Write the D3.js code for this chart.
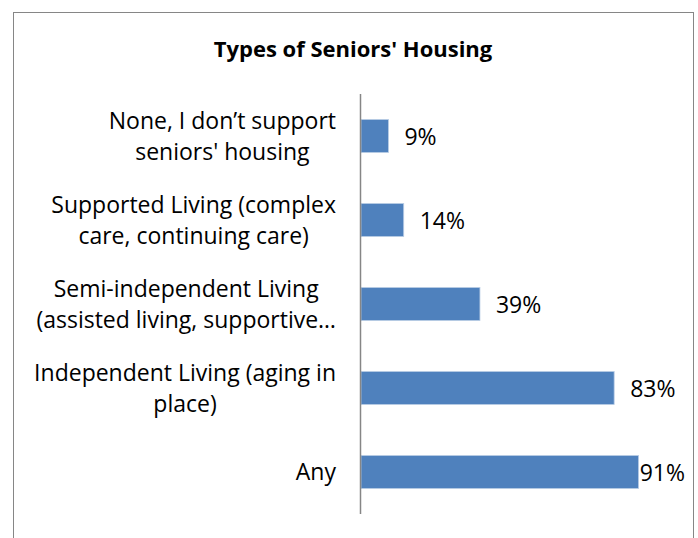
<!DOCTYPE html>
<html><head><meta charset="utf-8">
<script src="https://cdn.jsdelivr.net/npm/d3@7"></script>
<style>body{margin:0;background:#fff}svg{display:block}text{font-family:"Open Sans",Lato,sans-serif;fill:#000}</style>
</head><body><svg id="c" width="698" height="538"></svg>
<script>
const title = "Types of Seniors' Housing";
const categories = [
  ["None, I don\u2019t support", "seniors' housing"],
  ["Supported Living (complex", "care, continuing care)"],
  ["Semi-independent Living", "(assisted living, supportive\u2026"],
  ["Independent Living (aging in", "place)"],
  ["Any"]
];
const values = [9, 14, 39, 83, 91];
const valueLabels = ["9%", "14%", "39%", "83%", "91%"];

const svg = d3.select("#c");
svg.append("rect").attr("x",13.5).attr("y",12.5).attr("width",680).attr("height",560)
  .attr("fill","#fff").attr("stroke","#868686").attr("stroke-width",1);

svg.append("text").attr("x",353).attr("y",57).attr("text-anchor","middle")
  .attr("font-weight","bold").attr("font-size",22).text(title);

const idx = d3.range(values.length);
const y = d3.scaleBand().domain(idx).range([94,514]).paddingInner(0.607).paddingOuter(0.3035);
const x = d3.scaleLinear().domain([0,100]).range([361,666]);

svg.selectAll("rect.bar").data(idx).join("rect").attr("class","bar")
  .attr("x",x(0)).attr("y",i=>y(i)).attr("width",i=>x(values[i])-x(0)).attr("height",y.bandwidth())
  .attr("fill","#4F81BD").attr("stroke","#B9CDE5").attr("stroke-width",0.8);

svg.append("line").attr("x1",360.5).attr("x2",360.5).attr("y1",94).attr("y2",514)
  .attr("stroke","#868686").attr("stroke-width",1.5);

const fs = 23;
const lh = 30.5;
const rightEdge = 336;
idx.forEach(i=>{
  const lines = categories[i];
  const cy = y(i)+y.bandwidth()/2;
  const g = svg.append("g");
  const ts = lines.map((l,k)=>g.append("text").attr("font-size",fs)
     .attr("text-anchor","middle")
     .attr("y", cy + (k-(lines.length-1)/2)*lh + fs*0.36).text(l));
  const w = d3.max(ts, t=>t.node().getComputedTextLength());
  ts.forEach(t=>t.attr("x", rightEdge - w/2));
});

idx.forEach(i=>{
  const cy = y(i)+y.bandwidth()/2;
  const t = svg.append("text").attr("font-size",fs).attr("y",cy+fs*0.38).text(valueLabels[i]);
  const w = t.node().getComputedTextLength();
  let lx = x(values[i]) + 16;
  if (lx + w > 685) lx = Math.max(x(values[i]) + 1, 685 - w);
  t.attr("x", lx);
});
</script></body></html>
